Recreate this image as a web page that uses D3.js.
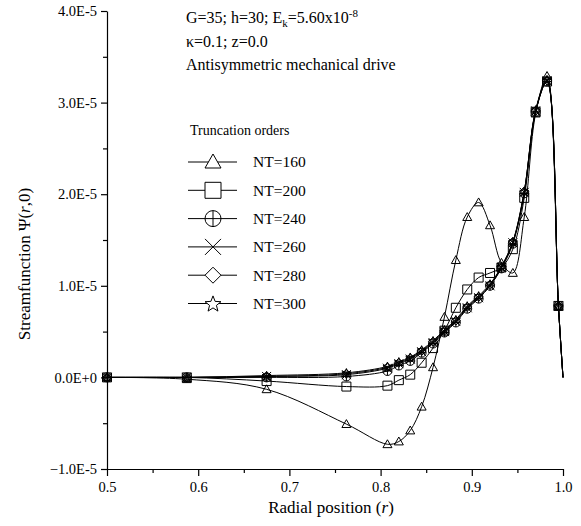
<!DOCTYPE html>
<html>
<head>
<meta charset="utf-8">
<style>
  body { margin: 0; background: #fff; }
  text { font-family: "Liberation Serif", "Times New Roman", serif; fill: #000; }
</style>
</head>
<body>
<svg width="581" height="526"></svg>
<script src="https://d3js.org/d3.v7.min.js"></script>
<script>

// radial grid shared by all truncation orders
var radii = [0.5, 0.5875, 0.675, 0.7625, 0.8075, 0.82, 0.8325, 0.845, 0.8575, 0.87, 0.8825,
  0.895, 0.9075, 0.92, 0.9325, 0.945, 0.9575, 0.97, 0.9825, 0.995, 1.0]

// streamfunction values, in units of 1e-5
var nt160 = [0, -0.02, -0.13, -0.51, -0.73, -0.70, -0.58, -0.32, 0.11, 0.66, 1.28,
  1.75, 1.91, 1.66, 1.25, 1.14, 1.75, 2.88, 3.29, 0.78, 0]
var nt200 = [0, 0, -0.04, -0.10, -0.09, -0.03, 0.03, 0.16, 0.32, 0.51, 0.76,
  0.96, 1.09, 1.14, 1.20, 1.40, 1.96, 2.90, 3.23, 0.78, 0]
var nt240 = [0, 0, 0.0, 0.01, 0.07, 0.13, 0.18, 0.27, 0.37, 0.49, 0.60,
  0.75, 0.86, 1.00, 1.19, 1.46, 2.01, 2.90, 3.23, 0.78, 0]
var nt260 = [0, 0, 0.01, 0.03, 0.10, 0.15, 0.20, 0.28, 0.38, 0.50, 0.61,
  0.76, 0.87, 1.00, 1.20, 1.47, 2.02, 2.91, 3.24, 0.78, 0]
var nt280 = [0, 0, 0.01, 0.04, 0.11, 0.16, 0.21, 0.29, 0.39, 0.51, 0.62,
  0.77, 0.88, 1.01, 1.21, 1.48, 2.03, 2.91, 3.24, 0.78, 0]
var nt300 = [0, 0, 0.02, 0.05, 0.12, 0.17, 0.22, 0.30, 0.40, 0.52, 0.63,
  0.78, 0.89, 1.02, 1.21, 1.48, 2.03, 2.92, 3.25, 0.78, 0]

var seriesNames = ['NT=160', 'NT=200', 'NT=240', 'NT=260', 'NT=280', 'NT=300']
var seriesValues = [nt160, nt200, nt240, nt260, nt280, nt300]
var seriesMarkers = ['triangle', 'square', 'circleplus', 'cross', 'diamond', 'star']

var xTicks = [0.5, 0.6, 0.7, 0.8, 0.9, 1.0]
var xMinorTicks = [0.55, 0.65, 0.75, 0.85, 0.95]
var yTicks = [-1, 0, 1, 2, 3, 4]
var yMinorTicks = [-0.5, 0.5, 1.5, 2.5, 3.5]

var svg = d3.select('svg')

var x = d3.scaleLinear().domain([0.5, 1.0]).range([107, 563])
var y = d3.scaleLinear().domain([-1, 4]).range([469, 11])

// marker shapes, s = half size
function markerPath(type, s) {
  var p = d3.path()
  if (type === 'triangle') {
    p.moveTo(0, -s); p.lineTo(s, s * 0.75); p.lineTo(-s, s * 0.75); p.closePath()
  } else if (type === 'square') {
    p.rect(-s, -s, 2 * s, 2 * s)
  } else if (type === 'circleplus') {
    p.moveTo(s, 0); p.arc(0, 0, s, 0, 2 * Math.PI)
    p.moveTo(-s, 0); p.lineTo(s, 0); p.moveTo(0, -s); p.lineTo(0, s)
  } else if (type === 'cross') {
    p.moveTo(-s, -s); p.lineTo(s, s); p.moveTo(s, -s); p.lineTo(-s, s)
  } else if (type === 'diamond') {
    p.moveTo(0, -s); p.lineTo(s, 0); p.lineTo(0, s); p.lineTo(-s, 0); p.closePath()
  } else if (type === 'star') {
    for (var i = 0; i < 10; i++) {
      var a = -Math.PI / 2 + i * Math.PI / 5
      var rr = i % 2 === 0 ? s * 1.05 : s * 0.45
      if (i === 0) p.moveTo(rr * Math.cos(a), rr * Math.sin(a) + s * 0.1)
      else p.lineTo(rr * Math.cos(a), rr * Math.sin(a) + s * 0.1)
    }
    p.closePath()
  }
  return p.toString()
}

// axes
var sciFmt = function (v) { return d3.format('.1e')(v * 1e-5).toUpperCase() }

svg.append('g').attr('transform', 'translate(107,0)')
  .call(d3.axisLeft(y).tickValues(yTicks).tickSize(6).tickSizeOuter(0).tickPadding(4).tickFormat(sciFmt))
svg.append('g').attr('transform', 'translate(107,0)')
  .call(d3.axisLeft(y).tickValues(yMinorTicks).tickSize(4).tickFormat(''))
  .select('.domain').remove()

svg.append('g').attr('transform', 'translate(0,469)')
  .call(d3.axisBottom(x).tickValues(xTicks).tickSize(7).tickSizeOuter(0).tickPadding(6).tickFormat(d3.format('.1f')))
svg.append('g').attr('transform', 'translate(0,469)')
  .call(d3.axisBottom(x).tickValues(xMinorTicks).tickSize(4).tickFormat(''))
  .select('.domain').remove()

svg.selectAll('.tick text').style('font-family', '"Liberation Serif", "Times New Roman", serif')
  .style('font-size', '14.5px').attr('fill', '#000')
svg.selectAll('.domain, .tick line').attr('stroke', '#000').attr('stroke-width', 1.2)

// axis titles
var yTitle = svg.append('text')
  .attr('transform', 'translate(24,264) rotate(-90)')
  .attr('text-anchor', 'middle').attr('dominant-baseline', 'central')
  .style('font-size', '17px')
yTitle.append('tspan').text('Streamfunction \u03A8(')
yTitle.append('tspan').style('font-style', 'italic').text('r')
yTitle.append('tspan').text(',0)')

var xTitle = svg.append('text')
  .attr('x', 331).attr('y', 513)
  .attr('text-anchor', 'middle')
  .style('font-size', '17px')
xTitle.append('tspan').text('Radial position (')
xTitle.append('tspan').style('font-style', 'italic').text('r')
xTitle.append('tspan').text(')')

// curves
var line = d3.line()
  .x(function (d) { return x(d.r) })
  .y(function (d) { return y(d.v) })
  .curve(d3.curveCatmullRom.alpha(0.5))

var series = seriesNames.map(function (name, i) {
  return {
    name: name,
    marker: seriesMarkers[i],
    points: radii.map(function (r, j) { return { r: r, v: seriesValues[i][j] } })
  }
})

var plot = svg.append('g')
series.forEach(function (s) {
  plot.append('path')
    .attr('d', line(s.points))
    .attr('fill', 'none').attr('stroke', '#000').attr('stroke-width', 1)
})
series.forEach(function (s) {
  plot.selectAll(null)
    .data(s.points.filter(function (d) { return d.r < 1 }))
    .enter().append('path')
    .attr('transform', function (d) { return 'translate(' + x(d.r) + ',' + y(d.v) + ')' })
    .attr('d', markerPath(s.marker, 4.5))
    .attr('fill', 'none').attr('stroke', '#000').attr('stroke-width', 1)
})

// annotation
var note = svg.append('g').style('font-size', '16px')
var l1 = note.append('text').attr('x', 186).attr('y', 23)
l1.append('tspan').text('G=35; h=30;  E')
l1.append('tspan').attr('dy', 4).style('font-size', '11px').text('k')
l1.append('tspan').attr('dy', -4).text('=5.60x10')
l1.append('tspan').attr('dy', -6).style('font-size', '11px').text('-8')
note.append('text').attr('x', 186).attr('y', 47).text('\u03BA=0.1; z=0.0')
note.append('text').attr('x', 186).attr('y', 70).text('Antisymmetric mechanical drive')

// legend
var legend = svg.append('g')
legend.append('text').attr('x', 190).attr('y', 135).style('font-size', '14px').text('Truncation orders')
var rows = legend.selectAll('g.row').data(series).enter().append('g')
  .attr('transform', function (d, i) { return 'translate(0,' + (162 + i * 28.3) + ')' })
rows.append('line').attr('x1', 188).attr('x2', 237).attr('stroke', '#000').attr('stroke-width', 1)
rows.append('path').attr('transform', 'translate(213,0)')
  .attr('d', function (d) { return markerPath(d.marker, 8) })
  .attr('fill', '#fff').attr('stroke', '#000').attr('stroke-width', 1)
rows.append('text').attr('x', 253).attr('dy', '0.35em').style('font-size', '15.5px')
  .text(function (d) { return d.name })

</script>
</body>
</html>
